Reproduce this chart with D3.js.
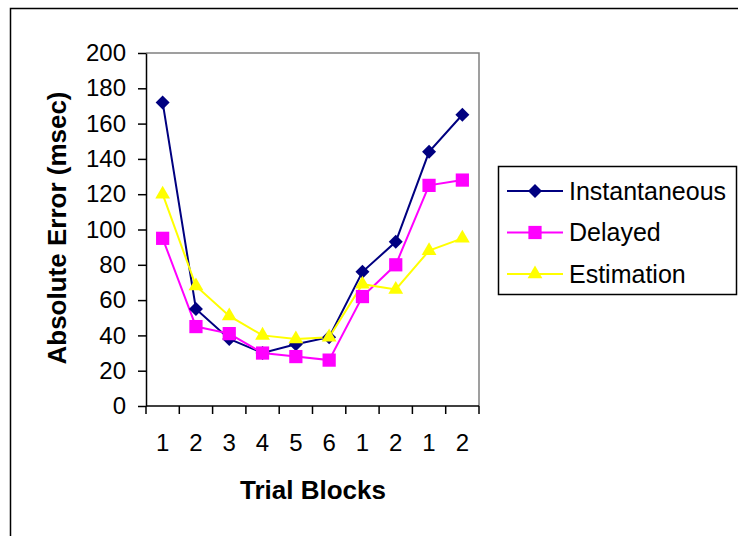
<!DOCTYPE html>
<html>
<head>
<meta charset="utf-8">
<script src="https://cdn.jsdelivr.net/npm/d3@7"></script>
<style>
  body { margin: 0; background: #fff; }
  text { font-family: "Liberation Sans", Arial, sans-serif; }
</style>
</head>
<body>
<div class="canvas"></div>
<script>
/* ----------- DATA ----------- */
const blocks = ['1', '2', '3', '4', '5', '6', '1', '2', '1', '2'];
const instantaneous = [172, 55, 38, 30, 35, 39, 76, 93, 144, 165];
const delayed = [95, 45, 41, 30, 28, 26, 62, 80, 125, 128];
const estimation = [120, 68, 51, 40, 38, 39, 69, 66, 88, 95];
const yTicks = [0, 20, 40, 60, 80, 100, 120, 140, 160, 180, 200];

const seriesNames = ['Instantaneous', 'Delayed', 'Estimation'];
const seriesColors = ['#000080', '#ff00ff', '#ffff00'];
const seriesShapes = [d3.symbolDiamond2, d3.symbolSquare, d3.symbolTriangle];
const seriesSizes = [125, 175, 95];

/* ----------- CONTAINER & GRAPH ----------- */
const svg = d3.select('.canvas')
    .append('svg')
    .attr('width', 738)
    .attr('height', 536);

// outer chart frame (runs off the right and bottom of the picture)
svg.append('rect')
    .attr('x', 10.5)
    .attr('y', 8.5)
    .attr('width', 800)
    .attr('height', 600)
    .attr('fill', 'none')
    .attr('stroke', '#000')
    .attr('stroke-width', 1.5);

const margin = { top: 53, left: 146 };
const graphWidth = 333;
const graphHeight = 353;

const graph = svg.append('g')
    .attr('transform', `translate(${margin.left},${margin.top})`);

/* ----------- SCALES & AXES ------------- */
const x = d3.scaleBand()
    .domain(d3.range(blocks.length))
    .range([0, graphWidth]);

const y = d3.scaleLinear()
    .domain([0, 200])
    .range([graphHeight, 0]);

// plot area border (grey top & right)
graph.append('path')
    .attr('d', `M0,0H${graphWidth}V${graphHeight}`)
    .attr('fill', 'none')
    .attr('stroke', '#808080')
    .attr('stroke-width', 1.5);

const yAxis = d3.axisLeft(y)
    .tickValues(yTicks)
    .tickSize(8)
    .tickPadding(12)
    .tickSizeOuter(0);

const yAxisGroup = graph.append('g').call(yAxis);

// x ticks sit on the band edges, labels in the band centres
const xAxisGroup = graph.append('g')
    .attr('transform', `translate(0,${graphHeight})`);

xAxisGroup.append('line')
    .attr('x1', 0).attr('x2', graphWidth)
    .attr('stroke', '#000');

xAxisGroup.selectAll('line.tick')
    .data(d3.range(blocks.length + 1))
    .enter()
    .append('line')
    .attr('class', 'tick')
    .attr('x1', d => d * x.step())
    .attr('x2', d => d * x.step())
    .attr('y1', 0)
    .attr('y2', 8)
    .attr('stroke', '#000');

xAxisGroup.selectAll('text')
    .data(blocks)
    .enter()
    .append('text')
    .attr('x', (d, i) => x(i) + x.bandwidth() / 2)
    .attr('y', 37)
    .attr('dy', '0.35em')
    .attr('text-anchor', 'middle')
    .attr('font-size', 24)
    .text(d => d);

[yAxisGroup, xAxisGroup].forEach(g => {
    g.selectAll('path, line').attr('stroke', '#000').attr('stroke-width', 1.5);
});
yAxisGroup.selectAll('text')
    .attr('font-size', 24)
    .attr('fill', '#000')
    .attr('font-family', '"Liberation Sans", Arial, sans-serif');

// axis titles
svg.append('text')
    .attr('transform', 'translate(57,228) rotate(-90)')
    .attr('text-anchor', 'middle')
    .attr('dy', '0.35em')
    .attr('font-size', 26)
    .attr('font-weight', 'bold')
    .text('Absolute Error (msec)');

svg.append('text')
    .attr('x', 313)
    .attr('y', 490)
    .attr('dy', '0.35em')
    .attr('text-anchor', 'middle')
    .attr('font-size', 26)
    .attr('font-weight', 'bold')
    .text('Trial Blocks');

/* ----------- LINES & MARKERS ----------- */
const allSeries = [instantaneous, delayed, estimation];

const line = d3.line()
    .x((d, i) => x(i) + x.bandwidth() / 2)
    .y(d => y(d));

allSeries.forEach((values, s) => {
    graph.append('path')
        .datum(values)
        .attr('d', line)
        .attr('fill', 'none')
        .attr('stroke', seriesColors[s])
        .attr('stroke-width', 2);
});

// draw markers after all lines so they sit on top
allSeries.forEach((values, s) => {
    graph.selectAll(`.marker-${s}`)
        .data(values)
        .enter()
        .append('path')
        .attr('class', `marker-${s}`)
        .attr('d', d3.symbol().type(seriesShapes[s]).size(seriesSizes[s]))
        .attr('transform', (d, i) => `translate(${x(i) + x.bandwidth() / 2},${y(d)})`)
        .attr('fill', seriesColors[s]);
});

/* ----------- LEGEND ----------- */
const legend = svg.append('g')
    .attr('transform', 'translate(498,166)');

legend.append('rect')
    .attr('x', 0.5).attr('y', 0.5)
    .attr('width', 238).attr('height', 128)
    .attr('fill', '#fff')
    .attr('stroke', '#000')
    .attr('stroke-width', 1.5);

const items = legend.selectAll('g.item')
    .data(seriesNames)
    .enter()
    .append('g')
    .attr('class', 'item')
    .attr('transform', (d, i) => `translate(0,${25 + i * 41.5})`);

items.append('line')
    .attr('x1', 9).attr('x2', 65)
    .attr('stroke', (d, i) => seriesColors[i])
    .attr('stroke-width', 2);

items.append('path')
    .attr('d', (d, i) => d3.symbol().type(seriesShapes[i]).size(seriesSizes[i])())
    .attr('transform', 'translate(37,0)')
    .attr('fill', (d, i) => seriesColors[i]);

items.append('text')
    .attr('x', 71)
    .attr('dy', '0.35em')
    .attr('font-size', 25)
    .text(d => d);
</script>
</body>
</html>
